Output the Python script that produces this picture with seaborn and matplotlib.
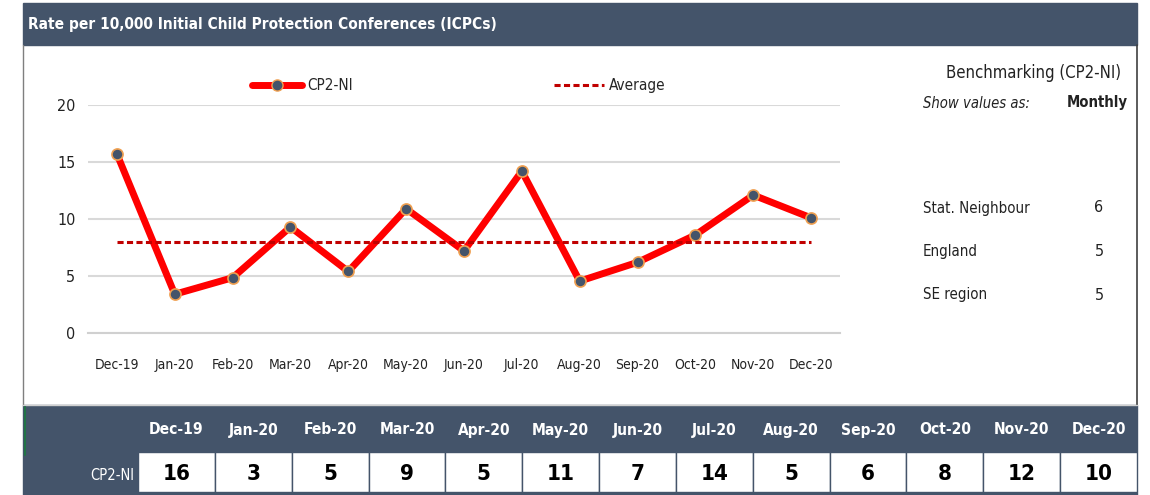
import matplotlib
import matplotlib.pyplot as plt
import numpy as np
import pandas as pd
import seaborn as sns
from matplotlib import font_manager
from matplotlib.lines import Line2D
from matplotlib.patches import Rectangle

matplotlib.use("Agg")


# values
months = ["Dec-19", "Jan-20", "Feb-20", "Mar-20", "Apr-20", "May-20", "Jun-20",
          "Jul-20", "Aug-20", "Sep-20", "Oct-20", "Nov-20", "Dec-20"]
rate = [15.7, 3.4, 4.85, 9.3, 5.4, 10.9, 7.2, 14.2, 4.55, 6.2, 8.6, 12.1, 10.1]
table_values = [16, 3, 5, 9, 5, 11, 7, 14, 5, 6, 8, 12, 10]
average = 7.95
y_ticks = [0, 5, 10, 15, 20]

bench_labels = ["Stat. Neighbour", "England", "SE region"]
bench_values = [6, 5, 5]

TITLE = "Rate per 10,000 Initial Child Protection Conferences (ICPCs)"
DARK = "#44546A"
INK = "#222222"
W, H = 1150, 495


def fx(px):
    return px / W


def fy(py):
    return 1 - py / H


def pick_narrow_font():
    # the original uses Calibri; look for any condensed sans face installed
    entries = font_manager.fontManager.ttflist
    for name in ["Liberation Sans Narrow", "Noto Sans", "DejaVu Sans", "Open Sans", "Roboto"]:
        for f in entries:
            if f.name == name and f.stretch != "normal" and "expand" not in str(f.stretch):
                return name, f.stretch
    for f in entries:
        low = f.name.lower()
        if "condensed" in low or "narrow" in low:
            return f.name, f.stretch
    return "Liberation Sans", "normal"


sns.set_theme(style="white")
font_name, font_stretch = pick_narrow_font()
plt.rcParams["font.family"] = [font_name, "DejaVu Sans"]
plt.rcParams["font.stretch"] = font_stretch

fig = plt.figure(figsize=(W / 100, H / 100), dpi=100)
fig.patch.set_facecolor("white")

# header bar and panel frame
fig.patches.append(Rectangle((fx(23), fy(45)), fx(1137 - 23), 42 / H,
                             transform=fig.transFigure, color=DARK, zorder=-2))
fig.text(fx(28), fy(25), TITLE, color="white", fontsize=11.1, fontweight="bold",
         va="center", ha="left")
fig.add_artist(Line2D([fx(23), fx(23)], [fy(45), fy(405)], color="#7F7F7F", lw=1))
fig.add_artist(Line2D([fx(1137), fx(1137)], [fy(45), fy(405)], color="#404040", lw=1.2))

# main chart
df = pd.DataFrame({"pos": np.arange(len(months)), "month": months, "rate": rate,
                   "average": [average] * len(months)})

ax = fig.add_axes([fx(88), fy(333), fx(840 - 88), (333 - 105) / H])
sns.lineplot(data=df, x="pos", y="rate", ax=ax, color="#FF0000", linewidth=5,
             marker="o", markersize=8, markerfacecolor=DARK,
             markeredgecolor="#F0A050", markeredgewidth=1.2, zorder=3)
sns.lineplot(data=df, x="pos", y="average", ax=ax, color="#C00000", linewidth=2.2,
             linestyle=(0, (2.0, 1.1)), zorder=4)

ax.set_xlim(-0.5, len(months) - 0.5)
ax.set_ylim(y_ticks[0], y_ticks[-1])
ax.set_yticks(y_ticks)
ax.set_xticks(df["pos"])
ax.set_xticklabels(months)
ax.set_xticks(np.arange(len(months) + 1) - 0.5, minor=True)
ax.set_xlabel("")
ax.set_ylabel("")
ax.grid(axis="y", color="#D9D9D9", linewidth=1.5)
ax.set_axisbelow(True)
for side in ["top", "right", "left"]:
    ax.spines[side].set_visible(False)
ax.spines["bottom"].set_color("#D0D0D0")
ax.spines["bottom"].set_linewidth(1.5)
ax.tick_params(axis="x", which="major", length=0, pad=18, labelsize=10, labelcolor=INK)
ax.tick_params(axis="x", which="minor", length=6, width=1.2, color="#D0D0D0", direction="out")
ax.tick_params(axis="y", length=0, pad=9, labelsize=11.5, labelcolor=INK)

handles = [
    Line2D([], [], color="#FF0000", linewidth=5, marker="o", markersize=8,
           markerfacecolor=DARK, markeredgecolor="#F0A050"),
    Line2D([], [], color="#C00000", linewidth=2.2, linestyle=(0, (2.0, 1.1))),
]
ax.legend(handles, ["CP2-NI", "Average"], loc="center", bbox_to_anchor=(0.493, 1.085),
          ncol=2, frameon=False, handlelength=3.3, handletextpad=0.3,
          columnspacing=13.2, fontsize=11)

# benchmarking panel
fig.text(fx(1034), fy(73), "Benchmarking (CP2-NI)", ha="center", va="center", fontsize=12,
         color=INK)
fig.text(fx(923), fy(103), "Show values as:", ha="left", va="center", fontsize=10.6,
         style="italic", color=INK)
fig.text(fx(1128), fy(103), "Monthly", ha="right", va="center", fontsize=10.6,
         fontweight="bold", color=INK)
for i, (label, value) in enumerate(zip(bench_labels, bench_values)):
    y = 208 + i * 43.5
    fig.text(fx(923), fy(y), label, ha="left", va="center", fontsize=10.8, color=INK)
    fig.text(fx(1099), fy(y), str(value), ha="center", va="center", fontsize=11.5,
             color=INK)

# bottom table
fig.patches.append(Rectangle((fx(23), 0), fx(1137 - 23), (H - 405) / H,
                             transform=fig.transFigure, color=DARK, zorder=-2))
fig.add_artist(Line2D([fx(23), fx(1137)], [fy(405), fy(405)], color="#D0D0D0", lw=1))
fig.add_artist(Line2D([fx(25), fx(25)], [fy(407), fy(455)], color="#217346", lw=1.5))
fig.text(fx(134), fy(475), "CP2-NI", ha="right", va="center", fontsize=10.5, color="white")

tax = fig.add_axes([fx(138), fy(492), fx(1137 - 138), (492 - 405) / H])
tax.set_facecolor("none")
tax.bar(df["pos"], 1, width=1, bottom=0, color="white", edgecolor=DARK, linewidth=1)
for i, (month, value) in enumerate(zip(months, table_values)):
    tax.text(i, 0.45, str(value), ha="center", va="center", fontsize=16,
             fontweight="bold", color="black")
    tax.text(i, 1.55, month, ha="center", va="center", fontsize=11.2,
             fontweight="bold", color="white")
tax.set_xlim(-0.5, len(months) - 0.5)
tax.set_ylim(0, 87 / 40)
tax.axis("off")

fig.savefig("out.png", dpi=100, facecolor="white")
